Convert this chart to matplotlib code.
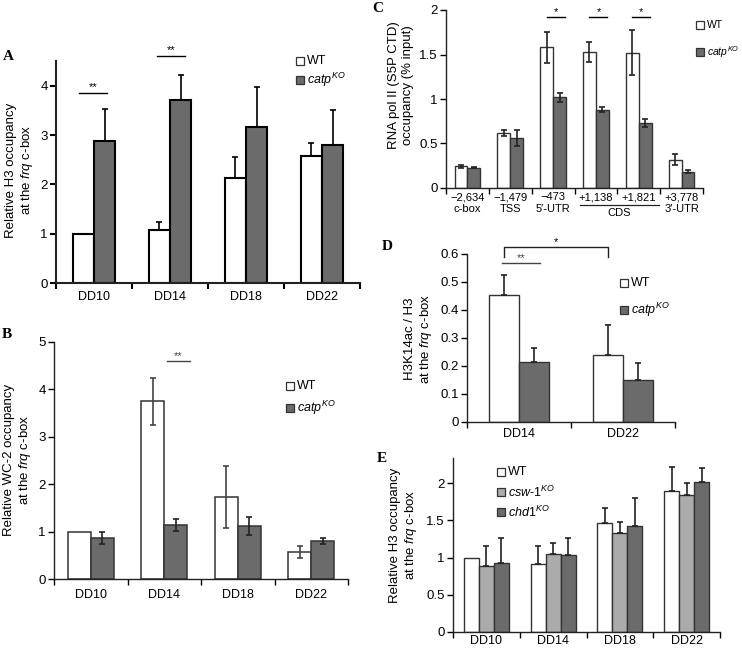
import numpy as np
import matplotlib
matplotlib.use('Agg')
import matplotlib.pyplot as plt
from matplotlib.patches import Rectangle

plt.rcParams['font.family'] = ['Liberation Sans', 'DejaVu Sans']
plt.rcParams['mathtext.fontset'] = 'custom'
plt.rcParams['mathtext.rm'] = 'Liberation Sans'
plt.rcParams['mathtext.it'] = 'Liberation Sans:italic'

W, H = 742, 650

# panel A - H3 occupancy
a_days = ['DD10', 'DD14', 'DD18', 'DD22']
a_wt = [1.0, 1.08, 2.12, 2.58]
a_wt_err = [0.0, 0.15, 0.43, 0.25]
a_ko = [2.88, 3.71, 3.16, 2.79]
a_ko_err = [0.65, 0.51, 0.81, 0.72]

# panel B - WC-2 occupancy
b_days = ['DD10', 'DD14', 'DD18', 'DD22']
b_wt = [1.0, 3.75, 1.73, 0.57]
b_wt_err = [0.0, 0.5, 0.65, 0.13]
b_ko = [0.87, 1.14, 1.12, 0.80]
b_ko_err = [0.13, 0.12, 0.19, 0.06]

# panel C - RNA pol II
c_sites = ['\u22122,634\nc-box', '\u22121,479\nTSS', '\u2212473\n5\u2032-UTR',
           '+1,138', '+1,821', '+3,778\n3\u2032-UTR']
c_wt = [0.245, 0.62, 1.58, 1.53, 1.52, 0.32]
c_wt_err = [0.015, 0.035, 0.17, 0.11, 0.25, 0.065]
c_ko = [0.23, 0.56, 1.02, 0.88, 0.73, 0.185]
c_ko_err = [0.01, 0.09, 0.05, 0.03, 0.05, 0.02]

# panel D - H3K14ac / H3
d_days = ['DD14', 'DD22']
d_wt = [0.455, 0.24]
d_wt_err = [0.07, 0.105]
d_ko = [0.215, 0.15]
d_ko_err = [0.048, 0.06]

# panel E - H3 occupancy in remodeler mutants
e_days = ['DD10', 'DD14', 'DD18', 'DD22']
e_wt = [1.0, 0.92, 1.47, 1.89]
e_wt_err = [0.0, 0.23, 0.20, 0.33]
e_csw = [0.89, 1.05, 1.33, 1.84]
e_csw_err = [0.26, 0.15, 0.15, 0.17]
e_chd = [0.93, 1.03, 1.43, 2.02]
e_chd_err = [0.33, 0.23, 0.37, 0.18]

KO = r'$\mathit{catp}^{\mathit{KO}}$'
DARK = '#6b6b6b'
LIGHT = '#ababab'
FS_X, FS_Y, FS_LAB, FS_LEG = 9, 9.5, 9.5, 9


def box(l, t, r, b):
    return [l / W, 1 - b / H, (r - l) / W, (b - t) / H]


def style(ax, labels, ylim, yticks, pad, fs_x=FS_X, lw=1.0):
    n = len(labels)
    ax.set_xlim(0, n)
    ax.set_ylim(*ylim)
    for s in ['top', 'right']:
        ax.spines[s].set_visible(False)
    for s in ['left', 'bottom']:
        ax.spines[s].set_linewidth(lw)
        ax.spines[s].set_color('#222222')
    ax.set_yticks(yticks)
    ax.set_yticklabels([f'{v:g}' for v in yticks], fontsize=FS_Y)
    ax.set_xticks(np.arange(n + 1))
    ax.set_xticklabels([])
    ax.set_xticks(np.arange(n) + 0.5, minor=True)
    ax.set_xticklabels(labels, minor=True, fontsize=fs_x)
    ax.tick_params(axis='x', which='minor', length=0, pad=pad)
    ax.tick_params(axis='x', which='major', length=4, width=lw, direction='out')
    ax.tick_params(axis='y', length=4, width=lw, direction='out', pad=2)


def errs(ax, x, y, e, up_only, color, lw=1.2):
    x = np.asarray(x); y = np.asarray(y); e = np.asarray(e)
    m = e > 0
    low = np.zeros(m.sum()) if up_only else e[m]
    ax.errorbar(x[m], y[m], yerr=[low, e[m]], fmt='none', ecolor=color,
                elinewidth=lw, capsize=2.2, capthick=lw, zorder=3)


def legend(entries, x, y0, dy, fs=FS_LEG):
    for i, (label, color) in enumerate(entries):
        y = y0 + i * dy
        fig.patches.append(Rectangle(((x - 4) / W, 1 - (y + 4) / H), 8 / W, 8 / H,
                                     transform=fig.transFigure, fc=color,
                                     ec='#333333', lw=0.9))
        fig.text((x + 7) / W, 1 - y / H, label, va='center', ha='left', fontsize=fs)


def sig(ax, x0, x1, y, txt, color='black', fs=8):
    ax.plot([x0, x1], [y, y], color=color, lw=1.0, clip_on=False)
    ax.text((x0 + x1) / 2, y, txt, ha='center', va='bottom', fontsize=fs,
            color=color, clip_on=False)


def ylab(x, y, txt, fs=FS_LAB):
    fig.text(x / W, 1 - y / H, txt, rotation=90, ha='center', va='center',
             fontsize=fs, multialignment='center', linespacing=1.25)


def letter(x, y, s):
    fig.text(x / W, 1 - y / H, s, ha='center', va='center', fontsize=11,
             fontweight='bold', family='Liberation Serif')


fig = plt.figure(figsize=(W / 100, H / 100), dpi=100)

# ---- A ----
ax = fig.add_axes(box(56, 61, 360, 283))
x = np.arange(len(a_days)) + 0.5
w = 0.28
ax.bar(x - w / 2, a_wt, w, color='white', edgecolor='black', lw=1.5, zorder=2)
ax.bar(x + w / 2, a_ko, w, color=DARK, edgecolor='black', lw=1.5, zorder=2)
errs(ax, x - w / 2, a_wt, a_wt_err, True, 'black')
errs(ax, x + w / 2, a_ko, a_ko_err, True, 'black')
style(ax, a_days, (0, 4.5), [0, 1, 2, 3, 4], pad=6, lw=1.5)
sig(ax, x[0] - 0.2, x[0] + 0.17, 3.86, '**')
sig(ax, x[1] - 0.17, x[1] + 0.2, 4.61, '**')
legend([('WT', 'white'), (KO, DARK)], 300, 61, 19)
ylab(20, 170, 'Relative H3 occupancy\nat the $\\mathit{frq}$ c-box')
letter(8, 56, 'A')

# ---- B ----
ax = fig.add_axes(box(54, 342, 348, 579))
x = np.arange(len(b_days)) + 0.5
w = 0.31
ax.bar(x - w / 2, b_wt, w, color='white', edgecolor='#333333', lw=1.1, zorder=2)
ax.bar(x + w / 2, b_ko, w, color=DARK, edgecolor='#333333', lw=1.1, zorder=2)
errs(ax, x - w / 2, b_wt, b_wt_err, False, '#444444')
errs(ax, x + w / 2, b_ko, b_ko_err, False, '#222222')
style(ax, b_days, (0, 5), [0, 1, 2, 3, 4, 5], pad=7)
sig(ax, x[1] + 0.04, x[1] + 0.35, 4.6, '**', color='#444444')
legend([('WT', 'white'), (KO, DARK)], 290, 386, 22)
ylab(18, 460, 'Relative WC-2 occupancy\nat the $\\mathit{frq}$ c-box')
letter(7, 335, 'B')

# ---- C ----
ax = fig.add_axes(box(446, 10, 703, 188))
x = np.arange(len(c_sites)) + 0.5
w = 0.30
ax.bar(x - w / 2, c_wt, w, color='white', edgecolor='#333333', lw=1.0, zorder=2)
ax.bar(x + w / 2, c_ko, w, color=DARK, edgecolor='#333333', lw=1.0, zorder=2)
errs(ax, x - w / 2, c_wt, c_wt_err, False, '#222222')
errs(ax, x + w / 2, c_ko, c_ko_err, False, '#222222')
style(ax, c_sites, (0, 2), [0, 0.5, 1, 1.5, 2], pad=3, fs_x=8)
for i in [2, 3, 4]:
    sig(ax, x[i] - 0.15, x[i] + 0.27, 1.92, '*')
tr = ax.get_xaxis_transform()
ax.plot([3.12, 4.97], [-0.097, -0.097], color='#222222', lw=0.9,
        transform=tr, clip_on=False)
ax.text(4.05, -0.14, 'CDS', transform=tr, ha='center', va='center', fontsize=8)
legend([('WT', 'white'), (KO, DARK)], 700, 25, 27, fs=7.5)
ylab(401, 85, 'RNA pol II (S5P CTD)\noccupancy (% input)')
letter(378, 9, 'C')

# ---- D ----
ax = fig.add_axes(box(467, 254, 675, 422))
x = np.arange(len(d_days)) + 0.5
w = 0.29
ax.bar(x - w / 2, d_wt, w, color='white', edgecolor='#333333', lw=1.0, zorder=2)
ax.bar(x + w / 2, d_ko, w, color=DARK, edgecolor='#333333', lw=1.0, zorder=2)
errs(ax, x - w / 2, d_wt, d_wt_err, True, '#222222')
errs(ax, x + w / 2, d_ko, d_ko_err, True, '#222222')
style(ax, d_days, (0, 0.6), [0, 0.1, 0.2, 0.3, 0.4, 0.5, 0.6], pad=4)
sig(ax, x[0] - 0.16, x[0] + 0.2, 0.568, '**', color='#444444')
bx0, bx1 = x[0] - 0.145, x[1] - 0.145
ax.plot([bx0, bx0, bx1, bx1], [0.59, 0.625, 0.625, 0.59], color='#222222',
        lw=1.0, clip_on=False)
ax.text((bx0 + bx1) / 2, 0.625, '*', ha='center', va='bottom', fontsize=8,
        clip_on=False)
legend([('WT', 'white'), (KO, DARK)], 624, 283, 27)
ylab(419, 339, 'H3K14ac / H3\nat the $\\mathit{frq}$ c-box')
letter(387, 247, 'D')

# ---- E ----
ax = fig.add_axes(box(453, 458, 720, 632))
x = np.arange(len(e_days)) + 0.5
w = 0.225
ax.bar(x - w, e_wt, w, color='white', edgecolor='#333333', lw=1.0, zorder=2)
ax.bar(x, e_csw, w, color=LIGHT, edgecolor='#333333', lw=1.0, zorder=2)
ax.bar(x + w, e_chd, w, color=DARK, edgecolor='#333333', lw=1.0, zorder=2)
errs(ax, x - w, e_wt, e_wt_err, True, '#222222')
errs(ax, x, e_csw, e_csw_err, True, '#222222')
errs(ax, x + w, e_chd, e_chd_err, True, '#222222')
style(ax, e_days, (0, 2.34), [0, 0.5, 1, 1.5, 2], pad=2)
legend([('WT', 'white'),
        (r'$\mathit{csw}$-$\mathit{1}^{\mathit{KO}}$', LIGHT),
        (r'$\mathit{chd1}^{\mathit{KO}}$', DARK)], 501, 472, 20)
ylab(404, 535, 'Relative H3 occupancy\nat the $\\mathit{frq}$ c-box')
letter(382, 458, 'E')

fig.savefig('out.png', dpi=100, facecolor='white')
